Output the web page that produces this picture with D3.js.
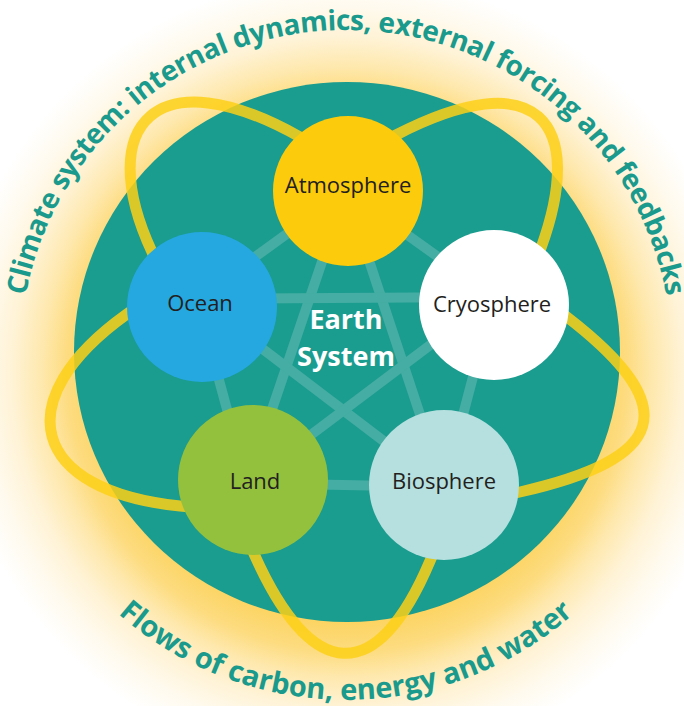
<!DOCTYPE html>
<html>
<head>
<meta charset="utf-8">
<script src="https://cdn.jsdelivr.net/npm/d3@7"></script>
<style>
  html, body { margin: 0; padding: 0; background: #ffffff; }
  svg { display: block; }
</style>
</head>
<body>
<div id="chart"></div>
<script>
// ---------- data ----------
const nodeNames   = ["Atmosphere", "Ocean", "Cryosphere", "Land", "Biosphere"];
const nodeColors  = ["#fccb0b", "#25a8e0", "#ffffff", "#93c13d", "#b5e0df"];
const centreTitle = ["Earth", "System"];
const outerTitle  = "Climate system: internal dynamics, external forcing and feedbacks";
const innerTitle  = "Flows of carbon, energy and water";
// every node interacts with every other node
const links = d3.merge(nodeNames.map((a, i) => nodeNames.slice(i + 1).map(b => [a, b])));
// feedback loops (yellow orbits) between neighbouring components
const loops = [["Ocean", "Atmosphere"], ["Atmosphere", "Cryosphere"], ["Cryosphere", "Biosphere"],
               ["Biosphere", "Land"], ["Land", "Ocean"]];

// ---------- layout ----------
const W = 684, H = 706;
const CX = 347, CY = 352;
const nodeLayout = {
  Atmosphere: {x: 348, y: 191, hx: 346, hy: 191, ly: 193, lx: 348},
  Ocean:      {x: 202, y: 307, hx: 197, hy: 299, ly: 311, lx: 200},
  Cryosphere: {x: 494, y: 305, hx: 494, hy: 297, ly: 312, lx: 492},
  Land:       {x: 253, y: 480, hx: 247, hy: 483, ly: 489, lx: 255},
  Biosphere:  {x: 444, y: 485, hx: 444, hy: 487, ly: 489, lx: 444}
};
const nodeR = 75;
// loop geometry: entry points on the two nodes, outgoing directions, handle lengths
const loopGeom = {
  "Ocean|Atmosphere":     {a: [152, 252], da: [-0.42, -0.91], la: 140, b: [300, 137], db: [-0.87, -0.49], lb: 165},
  "Atmosphere|Cryosphere":{a: [396, 135], da: [0.89, -0.46],  la: 158, b: [541, 248], db: [0.34, -0.94],  lb: 135},
  "Cryosphere|Biosphere": {a: [567, 317], da: [0.79, 0.61],   la: 150, b: [520, 492], db: [0.97, -0.22],  lb: 150},
  "Biosphere|Land":       {a: [430, 561], da: [-0.39, 0.92],  la: 138, b: [255, 556], db: [0.41, 0.91],   lb: 138},
  "Land|Ocean":           {a: [180, 506], da: [-0.99, -0.10], la: 150, b: [127, 314], db: [-0.81, 0.58],  lb: 150}
};

const svg = d3.select("#chart").append("svg")
  .attr("width", W).attr("height", H)
  .attr("viewBox", `0 0 ${W} ${H}`);

const defs = svg.append("defs");
const glow = defs.append("radialGradient")
  .attr("id", "glow").attr("gradientUnits", "userSpaceOnUse")
  .attr("cx", CX).attr("cy", 372).attr("r", 400);
[[0, "#fcd462"], [0.625, "#fcd462"], [0.70, "#fddc80"], [0.7625, "#fee8ad"],
 [0.8375, "#fff3d6"], [0.9125, "#fffaee"], [0.99, "#ffffff"], [1, "#ffffff"]]
  .forEach(([o, c]) => glow.append("stop").attr("offset", o).attr("stop-color", c));

svg.append("rect").attr("width", W).attr("height", H).attr("fill", "url(#glow)");

// Earth disc
svg.append("ellipse").attr("cx", CX).attr("cy", CY).attr("rx", 273).attr("ry", 270)
  .attr("fill", "#1a9c8e");

// interaction web
svg.append("g").selectAll("line").data(links).join("line")
  .attr("x1", d => nodeLayout[d[0]].hx).attr("y1", d => nodeLayout[d[0]].hy)
  .attr("x2", d => nodeLayout[d[1]].hx).attr("y2", d => nodeLayout[d[1]].hy)
  .attr("stroke", "#45ada3").attr("stroke-width", 10);

// yellow orbits
function loopPath(g) {
  const p = d3.path();
  const [ax, ay] = g.a, [bx, by] = g.b;
  p.moveTo(ax - 14 * g.da[0], ay - 14 * g.da[1]);
  p.lineTo(ax, ay);
  p.bezierCurveTo(ax + g.la * g.da[0], ay + g.la * g.da[1],
                  bx + g.lb * g.db[0], by + g.lb * g.db[1], bx, by);
  p.lineTo(bx - 14 * g.db[0], by - 14 * g.db[1]);
  return p.toString();
}
svg.append("g").selectAll("path").data(loops).join("path")
  .attr("d", d => loopPath(loopGeom[d.join("|")]))
  .attr("fill", "none").attr("stroke", "#fdd017").attr("stroke-opacity", 0.85)
  .attr("stroke-width", 11);

// nodes
const nodes = svg.append("g").selectAll("g").data(nodeNames).join("g");
nodes.append("circle")
  .attr("cx", d => nodeLayout[d].x).attr("cy", d => nodeLayout[d].y).attr("r", nodeR)
  .attr("fill", (d, i) => nodeColors[i]);
nodes.append("text")
  .attr("x", d => nodeLayout[d].lx).attr("y", d => nodeLayout[d].ly)
  .attr("text-anchor", "middle")
  .attr("font-family", "'Open Sans', sans-serif").attr("font-size", 22)
  .attr("fill", "#231f20").text(d => d);

// centre title
svg.append("g").selectAll("text").data(centreTitle).join("text")
  .attr("x", 346).attr("y", (d, i) => 329 + i * 37)
  .attr("text-anchor", "middle")
  .attr("font-family", "'Open Sans', sans-serif").attr("font-weight", 700)
  .attr("font-size", 27).attr("fill", "#ffffff").text(d => d);

// curved titles
const TCX = 346, TCY = 356;
const rTop = 326, rBot = 344;
defs.append("path").attr("id", "topArc")
  .attr("d", `M${TCX - rTop},${TCY} A${rTop},${rTop} 0 0 1 ${TCX + rTop},${TCY}`);
defs.append("path").attr("id", "botArc")
  .attr("d", `M${TCX - rBot},${TCY} A${rBot},${rBot} 0 0 0 ${TCX + rBot},${TCY}`);

[[outerTitle, "#topArc", "50%", 28, -0.45], [innerTitle, "#botArc", "50%", 29, 0]]
  .forEach(([t, href, off, fs, ls]) => {
    svg.append("text")
      .attr("font-family", "'Open Sans', sans-serif").attr("font-weight", 700)
      .attr("font-size", fs).attr("letter-spacing", ls).attr("fill", "#1a9a8c")
      .append("textPath").attr("href", href).attr("startOffset", off)
      .attr("text-anchor", "middle").text(t);
  });
</script>
</body>
</html>
